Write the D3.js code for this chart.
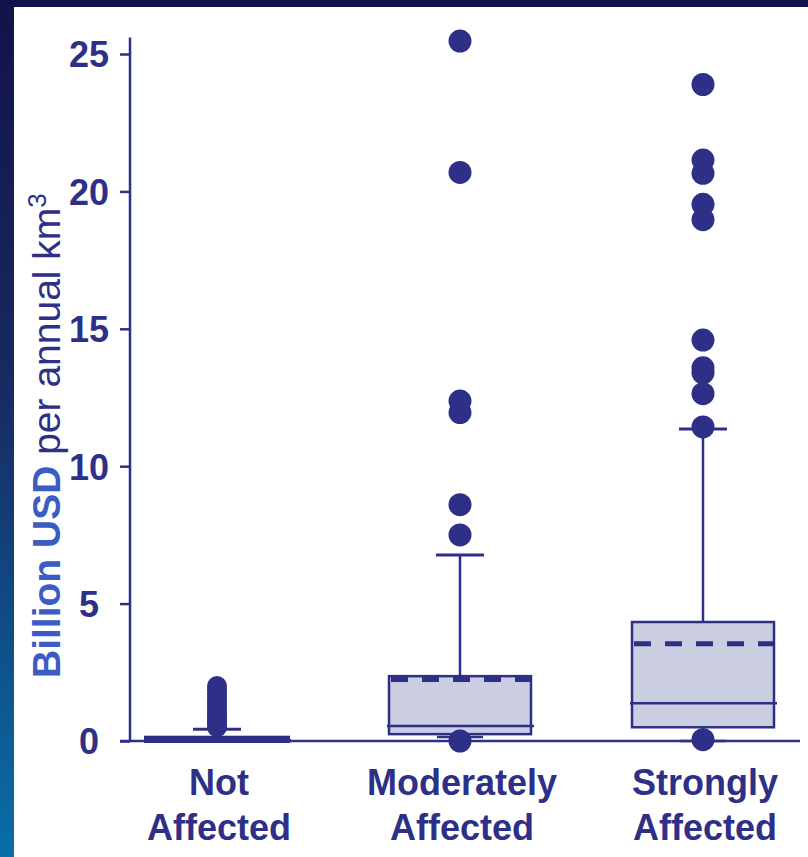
<!DOCTYPE html>
<html>
    <head>
        <title>Box plot</title>
        <script src="https://d3js.org/d3.v7.min.js"></script>
        <style>
            body {
                margin:0;
                padding:0;
                background:#13124b;
            }
            svg {
                display:block;
            }
        </style>
    </head>
    <body>
        <svg id="chart" width="808" height="857"></svg>
    </body>
    <script>

        // data
        const categories = ['Not Affected', 'Moderately Affected', 'Strongly Affected'];
        const q1 = [0, 0.25, 0.5];
        const median = [0.03, 0.55, 1.37];
        const q3 = [0.12, 2.36, 4.33];
        const mean = [0.08, 2.24, 3.54];
        const whiskerLow = [0, 0.15, 0];
        const whiskerHigh = [0.43, 6.77, 11.35];
        const outliers = [
            [0.5, 0.6, 0.7, 0.8, 0.9, 1.0, 1.15, 1.3, 1.4, 1.55, 1.7, 1.85, 2.0],
            [0, 7.5, 8.6, 11.95, 12.37, 20.69, 25.47],
            [0.05, 11.43, 12.64, 13.4, 13.58, 14.59, 18.97, 19.53, 20.66, 21.14, 23.89]
        ];
        const yTicks = [0, 5, 10, 15, 20, 25];

        const navy = '#2e3087';
        const svg = d3.select('#chart');

        // dark frame with blue gradient on the left edge
        const defs = svg.append('defs');
        const grad = defs.append('linearGradient')
            .attr('id', 'frame')
            .attr('x1', 0).attr('y1', 0).attr('x2', 0).attr('y2', 1);
        grad.append('stop').attr('offset', '0%').attr('stop-color', '#13124b');
        grad.append('stop').attr('offset', '45%').attr('stop-color', '#172a62');
        grad.append('stop').attr('offset', '100%').attr('stop-color', '#0a6ea8');

        svg.append('rect')
            .attr('width', 808).attr('height', 857)
            .style('fill', 'url(#frame)');
        svg.append('rect')
            .attr('x', 0).attr('y', 0).attr('width', 808).attr('height', 7)
            .style('fill', '#13124b');
        svg.append('rect')
            .attr('x', 14).attr('y', 7).attr('width', 794).attr('height', 850)
            .style('fill', 'white');

        const y = d3.scaleLinear().domain([0, 25]).range([741, 54]);
        const x = d3.scalePoint().domain(categories).range([217, 703]);
        const boxW = 142;

        // y axis
        const axisX = 130;
        const yAxis = svg.append('g')
            .attr('transform', `translate(${axisX},0)`)
            .call(d3.axisLeft(y).tickValues(yTicks).tickSize(10).tickSizeOuter(0));
        yAxis.select('.domain').remove();
        yAxis.selectAll('.tick line')
            .attr('stroke', navy)
            .attr('stroke-width', 2.5);
        yAxis.selectAll('.tick text')
            .attr('x', -41)
            .attr('dy', '0.36em')
            .attr('text-anchor', 'middle')
            .style('font-family', 'Liberation Sans, Arial, sans-serif')
            .style('font-size', '36px')
            .style('font-weight', 'bold')
            .style('fill', navy);

        svg.append('line')
            .attr('x1', axisX).attr('x2', axisX)
            .attr('y1', y(0)).attr('y2', y(25.6))
            .attr('stroke', navy).attr('stroke-width', 2.5);

        // baseline
        svg.append('line')
            .attr('x1', axisX - 10).attr('x2', 800)
            .attr('y1', y(0)).attr('y2', y(0))
            .attr('stroke', navy).attr('stroke-width', 2.5);

        // y label
        const ylab = svg.append('text')
            .attr('transform', `translate(60,678) rotate(-90)`)
            .attr('text-anchor', 'start')
            .style('font-family', 'Liberation Sans, Arial, sans-serif')
            .style('font-size', '39px');
        ylab.append('tspan')
            .text('Billion USD')
            .style('font-weight', 'bold')
            .style('fill', '#3b5cc4');
        ylab.append('tspan')
            .text(' per annual km')
            .style('fill', navy);
        ylab.append('tspan')
            .text('3')
            .attr('dy', '-0.55em')
            .style('font-size', '26px')
            .style('fill', navy);

        // boxes
        categories.forEach((c, i) => {
            const cx = x(c);
            const g = svg.append('g');

            // whiskers
            g.append('line')
                .attr('x1', cx).attr('x2', cx)
                .attr('y1', y(q3[i])).attr('y2', y(whiskerHigh[i]))
                .attr('stroke', navy).attr('stroke-width', 2.5);
            g.append('line')
                .attr('x1', cx).attr('x2', cx)
                .attr('y1', y(q1[i])).attr('y2', y(whiskerLow[i]))
                .attr('stroke', navy).attr('stroke-width', 2.5);
            g.append('line')
                .attr('x1', cx - 24).attr('x2', cx + 24)
                .attr('y1', y(whiskerHigh[i])).attr('y2', y(whiskerHigh[i]))
                .attr('stroke', navy).attr('stroke-width', 3);
            g.append('line')
                .attr('x1', cx - 23).attr('x2', cx + 23)
                .attr('y1', y(whiskerLow[i])).attr('y2', y(whiskerLow[i]))
                .attr('stroke', navy).attr('stroke-width', 2.5);

            // box
            g.append('rect')
                .attr('x', cx - boxW / 2)
                .attr('width', boxW)
                .attr('y', y(q3[i]))
                .attr('height', Math.max(1, y(q1[i]) - y(q3[i])))
                .style('fill', '#cbcde1')
                .attr('stroke', navy)
                .attr('stroke-width', i === 0 ? 4 : 2.5);

            // median
            g.append('line')
                .attr('x1', cx - boxW / 2 - 2).attr('x2', cx + boxW / 2 + 3)
                .attr('y1', y(median[i])).attr('y2', y(median[i]))
                .attr('stroke', navy).attr('stroke-width', 2.5);

            // mean
            g.append('line')
                .attr('x1', cx - boxW / 2 + 2).attr('x2', cx + boxW / 2 + 3)
                .attr('y1', y(mean[i])).attr('y2', y(mean[i]))
                .attr('stroke', navy).attr('stroke-width', 5)
                .attr('stroke-dasharray', '17,14');

            // outliers
            g.selectAll('circle')
                .data(outliers[i])
                .join('circle')
                .attr('cx', cx)
                .attr('cy', d => y(d))
                .attr('r', i === 0 ? 10 : 11.5)
                .style('fill', navy);
        });

        // category labels
        const labels = svg.append('g')
            .style('font-family', 'Liberation Sans, Arial, sans-serif')
            .style('font-size', '36px')
            .style('font-weight', 'bold')
            .style('fill', navy)
            .attr('text-anchor', 'middle');
        categories.forEach(c => {
            const words = c.split(' ');
            const t = labels.append('text').attr('x', x(c) + 2).attr('y', 795);
            t.append('tspan').attr('x', x(c) + 2).text(words[0]);
            t.append('tspan').attr('x', x(c) + 2).attr('dy', 45).text(words[1]);
        });

    </script>
</html>
